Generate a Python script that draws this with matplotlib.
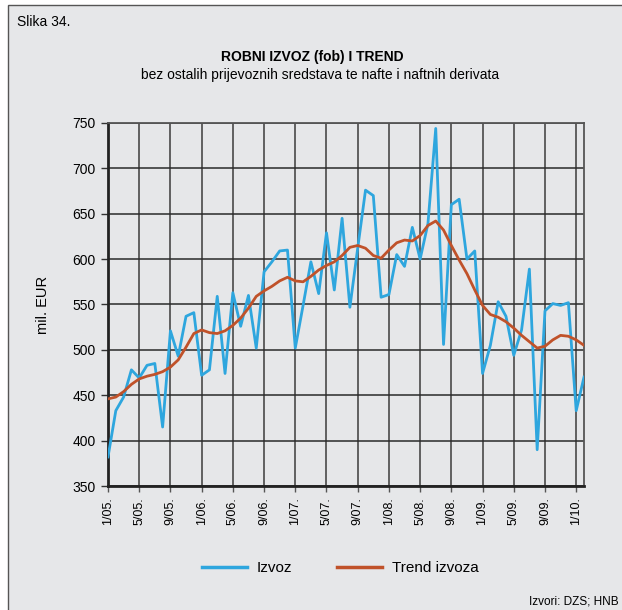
import matplotlib.pyplot as plt
from matplotlib.patches import Rectangle
from matplotlib.lines import Line2D

plt.rcParams['font.family'] = ['Liberation Sans', 'DejaVu Sans']

# Mjesecni podaci, 1/2005 - 2/2010 (mil. EUR)
izvoz = [382, 433, 448, 478, 469, 483, 485, 415, 521, 493, 537, 541,
         472, 478, 559, 474, 563, 526, 560, 502, 586, 597, 609, 610,
         502, 549, 597, 562, 629, 566, 645, 547, 612, 676, 670, 558,
         561, 605, 592, 635, 600, 639, 744, 506, 660, 666, 600, 609,
         474, 505, 553, 537, 494, 522, 589, 390, 543, 551, 549, 552,
         433, 470]
trend = [446, 448, 454, 462, 468, 471, 473, 476, 481, 489, 503, 518,
         522, 519, 518, 521, 527, 535, 546, 559, 565, 570, 576, 580,
         576, 575, 581, 588, 593, 597, 604, 613, 615, 612, 604, 601,
         610, 618, 621, 620, 626, 637, 642, 632, 615, 599, 584, 566,
         549, 539, 536, 531, 524, 516, 509, 502, 504, 511, 516, 515,
         511, 505]
tick_labels = ['1/05.', '5/05.', '9/05.', '1/06.', '5/06.', '9/06.', '1/07.', '5/07.',
               '9/07.', '1/08.', '5/08.', '9/08.', '1/09.', '5/09.', '9/09.', '1/10.']

blue = '#2ea6de'
orange = '#c0522a'
bg = '#e6e7e9'

fig = plt.figure(figsize=(6.22, 6.10), dpi=100)
fig.patch.set_facecolor('white')
fig.patches.append(Rectangle((8 / 622, -0.01), 1.0, 1 - 5 / 610 + 0.01, transform=fig.transFigure,
                             facecolor=bg, edgecolor='#555555', linewidth=1.0, zorder=-5))

ax = fig.add_axes([108 / 622, 1 - 486 / 610, (584 - 108) / 622, (486 - 123) / 610])
ax.set_facecolor(bg)

x = list(range(len(izvoz)))
ax.plot(x, izvoz, color=blue, linewidth=2.0, zorder=3)
ax.plot(x, trend, color=orange, linewidth=2.0, zorder=4)

ax.set_xlim(0, 61)
ax.set_ylim(350, 750)
ax.set_yticks(range(350, 751, 50))
ax.set_xticks(range(0, 61, 4))
ax.set_xticklabels(tick_labels, rotation=90, fontsize=9)
ax.tick_params(axis='y', labelsize=10, length=5, width=1, color='#333333', pad=4)
ax.tick_params(axis='x', length=4, width=1, color='#555555', pad=4)

ax.grid(axis='y', color='#2a2a2a', linewidth=1.1)
ax.grid(axis='x', color='#555555', linewidth=1.3)
ax.set_axisbelow(True)

for side in ['left', 'bottom']:
    ax.spines[side].set_linewidth(2.0)
    ax.spines[side].set_color('#222222')
for side in ['top', 'right']:
    ax.spines[side].set_linewidth(1.3)
    ax.spines[side].set_color('#555555')

ax.set_ylabel('mil. EUR', fontsize=10.5, labelpad=16)

fig.text(17 / 622, 1 - 22 / 610, 'Slika 34.', fontsize=10, va='center', ha='left')
fig.text(312 / 622, 1 - 57 / 610, 'ROBNI IZVOZ (fob) I TREND', fontsize=10, fontweight='bold',
         ha='center', va='center')
fig.text(320 / 622, 1 - 75 / 610, 'bez ostalih prijevoznih sredstava te nafte i naftnih derivata',
         fontsize=10, ha='center', va='center')

handles = [Line2D([], [], color=blue, linewidth=2.5),
           Line2D([], [], color=orange, linewidth=2.5)]
fig.legend(handles, ['Izvoz', 'Trend izvoza'], loc='center', bbox_to_anchor=(340 / 622, 1 - 568 / 610),
           ncol=2, frameon=False, fontsize=11, handlelength=2.95, columnspacing=2.9, handletextpad=0.65,
           borderpad=0, borderaxespad=0)

fig.text(619 / 622, 1 - 601 / 610, 'Izvori: DZS; HNB', fontsize=8.5, ha='right', va='center')

fig.savefig('out.png', dpi=100)
